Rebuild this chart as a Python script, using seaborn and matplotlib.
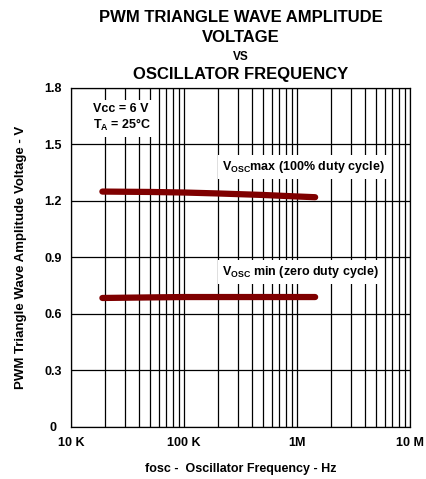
import numpy as np
import matplotlib.pyplot as plt
import matplotlib.font_manager as fm
import seaborn as sns
import pandas as pd

# curves
freq = [19e3, 50e3, 100e3, 200e3, 500e3, 1e6, 1.45e6]
vosc_max = [1.25, 1.248, 1.245, 1.24, 1.232, 1.224, 1.22]
vosc_min = [0.685, 0.688, 0.69, 0.69, 0.69, 0.69, 0.69]

xticks = [1e4, 1e5, 1e6, 1e7]
xticklabels = ['10 K', '100 K', '1M', '10 M']
yticks = [0, 0.3, 0.6, 0.9, 1.2, 1.5, 1.8]
yticklabels = ['0', '0.3', '0.6', '0.9', '1.2', '1.5', '1.8']

sns.set_style('white')

# regular-width Liberation Sans Bold (Arial metrics)
bold_file = None
for f in fm.findSystemFonts():
    if f.endswith('LiberationSans-Bold.ttf'):
        bold_file = f
if bold_file:
    fm.fontManager.addfont(bold_file)
    fam = fm.FontProperties(fname=bold_file).get_name()
else:
    fam = 'DejaVu Sans'

plt.rcParams['font.family'] = [fam, 'DejaVu Sans']
plt.rcParams['font.weight'] = 'bold'
plt.rcParams['text.color'] = 'black'
plt.rcParams['xtick.color'] = 'black'
plt.rcParams['ytick.color'] = 'black'
plt.rcParams['axes.labelcolor'] = 'black'
plt.rcParams['mathtext.fontset'] = 'custom'
plt.rcParams['mathtext.rm'] = fam + ':bold'
plt.rcParams['mathtext.it'] = fam + ':bold'
plt.rcParams['mathtext.bf'] = fam + ':bold'

df = pd.concat([
    pd.DataFrame({'f': freq, 'v': vosc_max, 'curve': 'max'}),
    pd.DataFrame({'f': freq, 'v': vosc_min, 'curve': 'min'}),
])

fig = plt.figure(figsize=(4.27, 4.79), dpi=100)
ax = fig.add_axes([0.166, 0.1086, 0.794, 0.7077])

sns.lineplot(data=df, x='f', y='v', units='curve', estimator=None,
             color='#7f0000', lw=4.5, solid_capstyle='round', ax=ax, zorder=4)

ax.set_xscale('log')
ax.set_xlim(1e4, 1e7)
ax.set_ylim(0, 1.8)
ax.set_xticks(xticks)
ax.set_xticklabels(xticklabels)
ax.set_yticks(yticks)
ax.set_yticklabels(yticklabels, ha='center')
ax.minorticks_on()
ax.yaxis.set_minor_locator(plt.NullLocator())
ax.tick_params(axis='both', which='both', length=0, labelsize=9)
ax.tick_params(axis='x', pad=7)
ax.tick_params(axis='y', pad=13)
ax.grid(True, which='both', axis='x', color='black', lw=0.9)
ax.grid(True, which='major', axis='y', color='black', lw=0.9)
ax.set_axisbelow(True)
for s in ax.spines.values():
    s.set_color('black')
    s.set_linewidth(0.9)

ax.set_xlabel('fosc -  Oscillator Frequency - Hz', fontsize=9, fontweight='bold', labelpad=10)
ax.set_ylabel('PWM Triangle Wave Amplitude Voltage - V', fontsize=9.5, fontweight='bold', labelpad=12)

box = dict(facecolor='white', edgecolor='none', pad=3)
ax.text(0.065, 0.955, 'Vcc = 6 V\nT$_\\mathregular{A}$ = 25°C', transform=ax.transAxes,
        ha='left', va='top', fontsize=9, fontweight='bold', linespacing=1.15, bbox=box, zorder=5)
ax.text(0.445, 0.767, 'V$_\\mathregular{OSC}$max (100% duty cycle)', transform=ax.transAxes,
        ha='left', va='center', fontsize=9, fontweight='bold', bbox=box, zorder=5)
ax.text(0.445, 0.457, 'V$_\\mathregular{OSC}$ min (zero duty cycle)', transform=ax.transAxes,
        ha='left', va='center', fontsize=9, fontweight='bold', bbox=box, zorder=5)

cx = 0.5 * (0.166 + 0.960)
fig.text(cx, 1 - 17 / 479, 'PWM TRIANGLE WAVE AMPLITUDE', ha='center', va='center', fontsize=12, fontweight='bold')
fig.text(cx, 1 - 37 / 479, 'VOLTAGE', ha='center', va='center', fontsize=12, fontweight='bold')
fig.text(cx, 1 - 57 / 479, 'VS', ha='center', va='center', fontsize=8.5, fontweight='bold')
fig.text(cx, 1 - 75 / 479, 'OSCILLATOR FREQUENCY', ha='center', va='center', fontsize=12, fontweight='bold')

plt.savefig('out.png', dpi=100)
